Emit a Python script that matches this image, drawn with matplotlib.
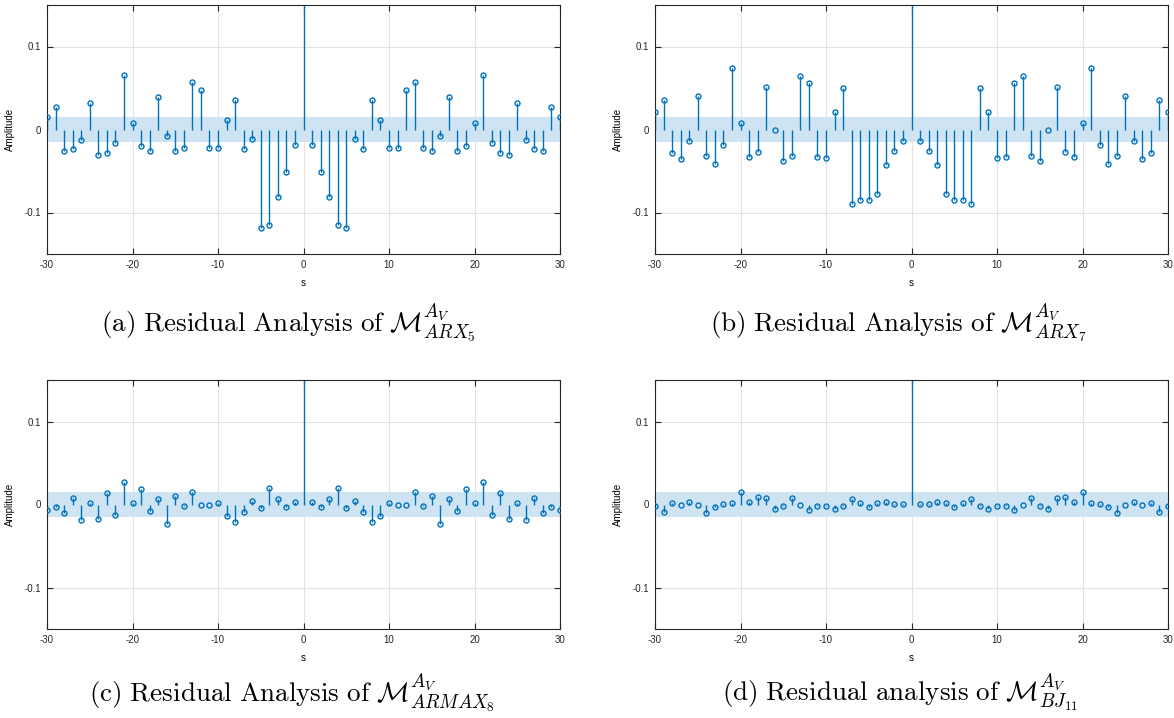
import numpy as np
import matplotlib
matplotlib.use("Agg")
import matplotlib.pyplot as plt

plt.rcParams['font.family'] = ['Liberation Sans', 'DejaVu Sans']
plt.rcParams['mathtext.fontset'] = 'cm'

# residual autocorrelation for lags 1..30 (the sequence is symmetric, lag 0 = 1)
lags_pos = np.arange(1, 31)

r_arx5 = [-0.0184, -0.0508, -0.0816, -0.1148, -0.1184, -0.0120, -0.0240, 0.0352, 0.0120, -0.0228,
          -0.0228, 0.0480, 0.0572, -0.0220, -0.0264, -0.0084, 0.0396, -0.0256, -0.0204, 0.0084,
          0.0660, -0.0168, -0.0288, -0.0304, 0.0316, -0.0132, -0.0236, -0.0256, 0.0276, 0.0156]

r_arx7 = [-0.0144, -0.0264, -0.0432, -0.0780, -0.0852, -0.0852, -0.0896, 0.0504, 0.0208, -0.0344,
          -0.0332, 0.0560, 0.0640, -0.0324, -0.0376, -0.0012, 0.0512, -0.0276, -0.0336, 0.0080,
          0.0740, -0.0192, -0.0420, -0.0324, 0.0408, -0.0140, -0.0360, -0.0288, 0.0352, 0.0212]

r_armax8 = [0.0032, -0.0036, 0.0072, 0.0200, -0.0048, 0.0040, -0.0092, -0.0208, -0.0140, 0.0020,
            -0.0012, -0.0004, 0.0152, -0.0020, 0.0108, -0.0236, 0.0068, -0.0084, 0.0184, 0.0016,
            0.0272, -0.0124, 0.0136, -0.0172, 0.0024, -0.0192, 0.0076, -0.0104, -0.0036, -0.0068]

r_bj11 = [0.0004, 0.0004, 0.0032, 0.0020, -0.0032, 0.0020, 0.0068, -0.0024, -0.0060, -0.0024,
          -0.0020, -0.0068, 0.0000, 0.0084, -0.0020, -0.0060, 0.0084, 0.0088, 0.0032, 0.0152,
          0.0024, 0.0012, -0.0028, -0.0100, -0.0012, 0.0032, -0.0004, 0.0020, -0.0092, -0.0016]

conf = 0.0153  # 95% confidence bound

captions = [r'$\mathrm{(a)\ Residual\ Analysis\ of\ }\mathcal{M}^{A_V}_{ARX_5}$',
            r'$\mathrm{(b)\ Residual\ Analysis\ of\ }\mathcal{M}^{A_V}_{ARX_7}$',
            r'$\mathrm{(c)\ Residual\ Analysis\ of\ }\mathcal{M}^{A_V}_{ARMAX_8}$',
            r'$\mathrm{(d)\ Residual\ analysis\ of\ }\mathcal{M}^{A_V}_{BJ_{11}}$']

series = [r_arx5, r_arx7, r_armax8, r_bj11]

W, H = 1174, 718
fig = plt.figure(figsize=(W / 100, H / 100), dpi=100)

boxes = [(47, 5), (655, 5), (47, 380), (655, 380)]
cap_pos = [(288, 322), (898, 322), (292, 692), (900, 692)]
blue = '#0072BD'

for k in range(4):
    x0, y0 = boxes[k]
    ax = fig.add_axes([x0 / W, 1 - (y0 + 249) / H, 513 / W, 249 / H])

    vals = np.array(series[k])
    lags = np.concatenate([-lags_pos[::-1], [0], lags_pos])
    r = np.concatenate([vals[::-1], [1.0], vals])

    ax.fill_between([-30, 30], -conf, conf, color='#cfe4f3', lw=0, zorder=1)
    ml, sl, bl = ax.stem(lags, r, linefmt='-', markerfmt='o', basefmt=' ')
    plt.setp(sl, color=blue, linewidth=1.0, zorder=2)
    plt.setp(ml, color=blue, markersize=3.6, markerfacecolor='none',
             markeredgewidth=1.0, zorder=3)

    ax.set_xlim(-30, 30)
    ax.set_ylim(-0.15, 0.15)
    ax.set_xticks([-30, -20, -10, 0, 10, 20, 30])
    ax.set_yticks([-0.1, 0, 0.1])
    ax.set_yticklabels(['-0.1', '0', '0.1'])
    ax.set_xticklabels(['-30', '-20', '-10', '0', '10', '20', '30'])
    ax.grid(True, color='#e3e3e3', linewidth=0.8)
    ax.set_axisbelow(True)
    ax.tick_params(direction='in', length=4, width=0.8, labelsize=7,
                   top=True, right=True, pad=4, colors='#262626')
    for s in ax.spines.values():
        s.set_linewidth(0.8)
        s.set_color('#262626')
    ax.set_xlabel('s', fontsize=7, labelpad=6)
    ax.set_ylabel('Amplitude', fontsize=7, labelpad=7)

    cx, cy = cap_pos[k]
    fig.text(cx / W, 1 - cy / H, captions[k], ha='center', va='center', fontsize=19.5)

fig.savefig('out.png', dpi=100)
